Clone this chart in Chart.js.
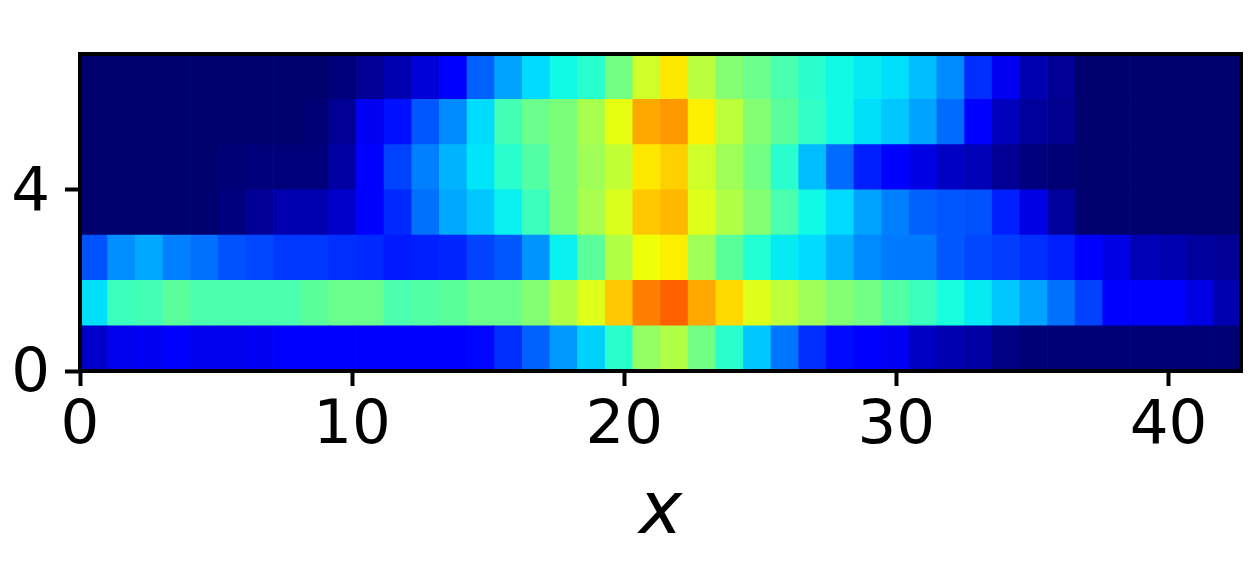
<!DOCTYPE html>
<html>
<head>
<meta charset="utf-8">
<title>heatmap</title>
<script src="https://cdn.jsdelivr.net/npm/chart.js@4/dist/chart.umd.min.js"></script>
<style>
  html, body { margin: 0; padding: 0; background: #fff; }
  canvas { display: block; }
</style>
</head>
<body>
<canvas id="myChart" width="1250" height="580"></canvas>
<script>
const row0 = [.07,.095,.1,.11,.095,.095,.1,.11,.11,.11,.11,.11,.115,.115,.13,.17,.22,.275,.33,.40,.53,.565,.49,.40,.32,.24,.17,.135,.115,.10,.065,.05,.04,.015,.005,.005,.005,.005,.005,.005,.005,.005]
const row1 = [.345,.42,.43,.46,.44,.44,.44,.44,.46,.48,.48,.44,.45,.46,.48,.48,.51,.565,.62,.698,.775,.808,.732,.68,.62,.58,.545,.51,.49,.45,.42,.38,.355,.32,.285,.235,.19,.125,.115,.115,.09,.05]
const row2 = [.205,.265,.29,.25,.235,.205,.195,.18,.18,.17,.165,.15,.155,.16,.19,.21,.27,.36,.46,.565,.64,.656,.545,.46,.39,.355,.34,.30,.26,.245,.245,.21,.195,.185,.17,.155,.115,.09,.055,.05,.035,.03]
const row3 = [0,0,0,0,0,.012,.03,.05,.05,.07,.11,.165,.235,.29,.32,.36,.42,.50,.555,.615,.698,.715,.62,.565,.51,.44,.37,.34,.285,.25,.22,.21,.205,.155,.09,.035,0,0,0,0,0,0]
const row4 = [0,0,0,0,0,.005,.01,.01,.01,.04,.11,.19,.25,.30,.35,.40,.45,.50,.545,.585,.664,.69,.60,.545,.49,.40,.31,.23,.155,.11,.09,.065,.055,.03,.012,.005,0,0,0,0,0,0]
const row5 = [0,0,0,0,0,0,0,0,.005,.03,.10,.14,.21,.26,.34,.43,.48,.50,.555,.63,.732,.748,.656,.578,.51,.46,.41,.37,.345,.32,.285,.23,.115,.06,.035,.025,0,0,0,0,0,0]
const row6 = [0,0,0,0,0,0,0,0,0,.01,.03,.05,.08,.11,.22,.285,.34,.37,.40,.49,.60,.664,.575,.51,.48,.44,.40,.37,.355,.345,.31,.26,.17,.10,.05,.03,0,0,0,0,0,0]
const rows = [row0, row1, row2, row3, row4, row5, row6]

const xMax = 128 / 3 // axis runs a bit past 42
const yMax = 7
const xTicks = [0, 10, 20, 30, 40]
const yTicks = [0, 4]
const xTitle = 'x'

// jet colormap, low end a little darker to match the picture
function jet(v) {
  const clamp = (n) => Math.max(0, Math.min(1, n))
  const r = clamp(Math.min((v - 0.35) / 0.31, 1 - (v - 0.89) / 0.22))
  const g = clamp(Math.min((v - 0.125) / 0.25, (0.91 - v) / 0.27))
  const b = clamp(Math.min(0.43 + v * 5.2, (0.65 - v) / 0.31))
  return `rgb(${Math.round(r * 255)}, ${Math.round(g * 255)}, ${Math.round(b * 255)})`
}

const cellWidth = xMax / row0.length

const datasets = rows.map((row, r) => ({
  label: 'row ' + r,
  data: row.map((v, i) => ({ x: (i + 0.5) * cellWidth, y: [r, r + 1], v })),
  backgroundColor: row.map((v) => jet(v)),
  borderWidth: 0,
  grouped: false,
  barPercentage: 1,
  categoryPercentage: 1
}))

// top and right spines, bar charts only get the two axis lines
const frame = {
  id: 'frame',
  afterDraw(chart) {
    const { ctx, chartArea: a } = chart
    ctx.save()
    ctx.strokeStyle = '#000'
    ctx.lineWidth = 4
    ctx.strokeRect(a.left, a.top, a.right - a.left, a.bottom - a.top)
    ctx.restore()
  }
}

const ctx = document.getElementById('myChart').getContext('2d')
const chart = new Chart(ctx, {
  type: 'bar',
  data: { datasets },
  plugins: [frame],
  options: {
    responsive: false,
    animation: false,
    layout: { padding: { top: 54, right: 9, left: 0, bottom: 0 } },
    plugins: {
      legend: { display: false },
      tooltip: { enabled: false }
    },
    scales: {
      x: {
        type: 'linear',
        offset: false,
        min: 0,
        max: xMax,
        afterFit(scale) { scale.height = 209 },
        afterBuildTicks(scale) { scale.ticks = xTicks.map((value) => ({ value })) },
        grid: { offset: false, drawOnChartArea: false, tickLength: 15, tickWidth: 4, tickColor: '#000' },
        border: { display: false },
        ticks: {
          color: '#000',
          maxRotation: 0,
          padding: 5,
          font: { family: 'DejaVu Sans', size: 61 }
        },
        title: {
          display: true,
          text: xTitle,
          color: '#000',
          padding: { top: 0, bottom: 22 },
          font: { family: 'DejaVu Sans', size: 73, style: 'italic' }
        }
      },
      y: {
        type: 'linear',
        min: 0,
        max: yMax,
        afterFit(scale) { scale.width = 80 },
        afterBuildTicks(scale) { scale.ticks = yTicks.map((value) => ({ value })) },
        grid: { drawOnChartArea: false, tickLength: 15, tickWidth: 4, tickColor: '#000' },
        border: { display: false },
        ticks: {
          color: '#000',
          padding: 15,
          // empty first line nudges the digit a few px below the tick
          callback: (value) => ['', String(value)],
          font: { family: 'DejaVu Sans', size: 61, lineHeight: 0.13 }
        }
      }
    }
  }
})
</script>
</body>
</html>
